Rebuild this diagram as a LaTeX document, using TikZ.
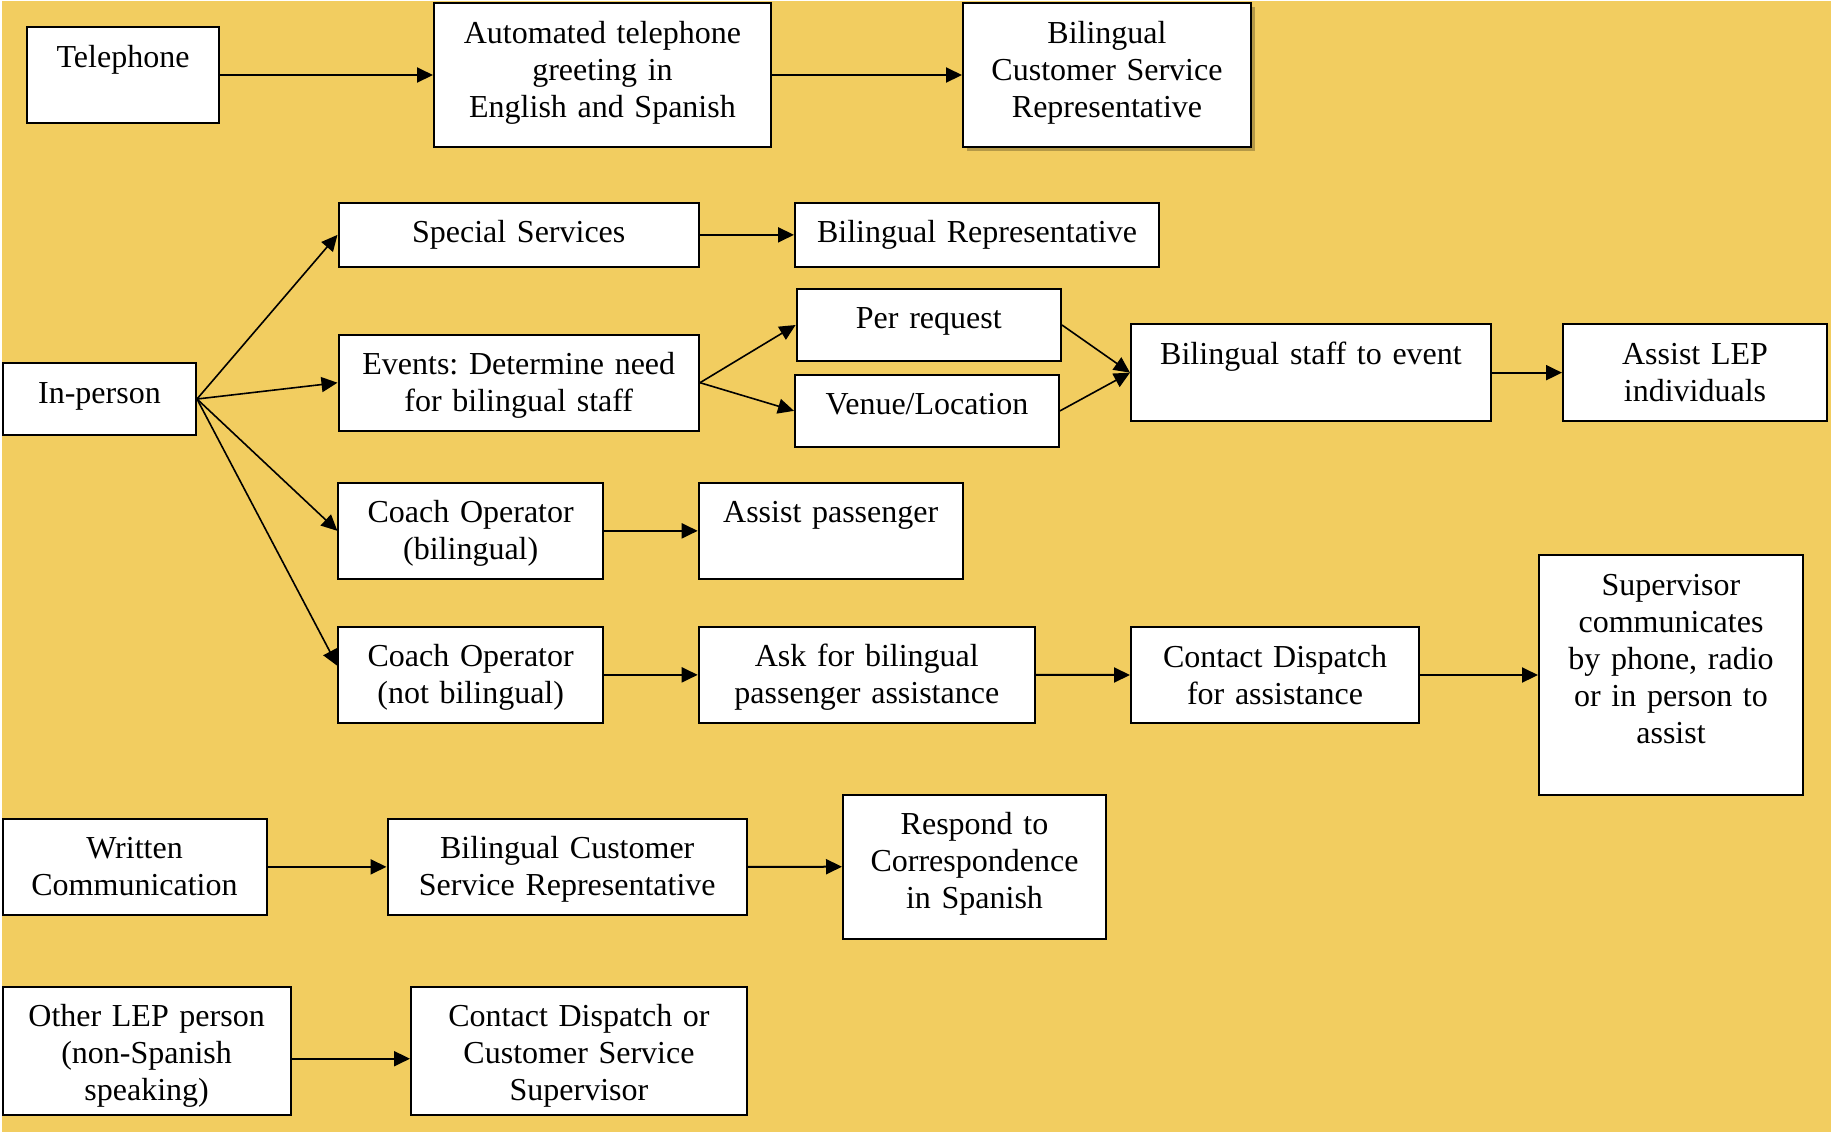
\documentclass[tikz,border=0pt]{standalone}
\usepackage{fontspec}
\setmainfont{Liberation Serif}
\usetikzlibrary{arrows.meta,shadows}
\definecolor{bgyellow}{RGB}{242,205,96}
\frenchspacing
\tikzset{
  bx/.style={draw=black, line width=1pt, fill=white, anchor=north west,
    inner sep=0pt, align=center, text height=20pt,
    font=\fontsize{16pt}{18.5pt}\selectfont\frenchspacing},
  arr/.style={line width=1pt, -{Triangle[length=8pt,width=7.5pt]}},
  darr/.style={arr, line width=0.8pt},
  shd/.style={drop shadow={shadow xshift=2pt, shadow yshift=-2pt, fill=black, opacity=0.25}}
}
\begin{document}
\begin{tikzpicture}[x=0.5pt,y=-0.5pt]
\useasboundingbox (0,0) rectangle (1831,1132);
\fill[white] (0,0) rectangle (1831,1132);
\fill[bgyellow] (2,1) rectangle (1831,1132);

% row 1
\node[bx, text width=96pt, text depth=28pt] (tel) at (26,26) {Telephone};
\node[bx, text width=168.5pt, text depth=52pt] (auto) at (433,2) {Automated telephone\\greeting in\\English and Spanish};
\node[bx, shd, text width=144pt, text depth=52pt] (bcsr1) at (962,2) {Bilingual\\Customer Service\\Representative};

% in-person block
\node[bx, text width=96.5pt, text depth=16pt] (inp) at (2,362) {In-person};
\node[bx, text width=180.25pt, text depth=12.15pt] (ss) at (337.5,201.7) {Special Services};
\node[bx, text width=182pt, text depth=12.15pt] (br) at (794,201.7) {Bilingual Representative};
\node[bx, text width=180.25pt, text depth=28pt] (ev) at (337.5,333.7) {Events: Determine need\\for bilingual staff};
\node[bx, text width=132.2pt, text depth=16.3pt] (pr) at (795.6,287.7) {Per request};
\node[bx, text width=132pt, text depth=16.15pt] (ven) at (794,373.7) {Venue/Location};
\node[bx, text width=180pt, text depth=28.35pt] (staff) at (1130,323.3) {Bilingual staff to event};
\node[bx, text width=132pt, text depth=28.35pt] (lep) at (1562,323.3) {Assist LEP\\individuals};
\node[bx, text width=132.3pt, text depth=28.15pt] (co1) at (337.4,481.7) {Coach Operator\\(bilingual)};
\node[bx, text width=132pt, text depth=28.15pt] (ap) at (697.7,481.7) {Assist passenger};
\node[bx, text width=132.3pt, text depth=28.15pt] (co2) at (337.4,625.7) {Coach Operator\\(not bilingual)};
\node[bx, text width=168.15pt, text depth=28.15pt] (ask) at (697.7,625.7) {Ask for bilingual\\passenger assistance};
\node[bx, text width=144pt, text depth=28pt] (cd) at (1130,626) {Contact Dispatch\\for assistance};
\node[bx, text width=132pt, text depth=100pt] (sup) at (1538,554) {Supervisor\\communicates\\by phone, radio\\or in person to\\assist};

% written
\node[bx, text width=132pt, text depth=28.15pt] (wc) at (1.5,817.7) {Written\\Communication};
\node[bx, text width=179.75pt, text depth=28.15pt] (bcsr2) at (386.5,817.7) {Bilingual Customer\\Service Representative};
\node[bx, text width=131.5pt, text depth=52pt] (resp) at (842,793.7) {Respond to\\Correspondence\\in Spanish};

% other
\node[bx, text width=144.1pt, text depth=44pt] (oth) at (1.5,985.7) {Other LEP person\\(non-Spanish\\speaking)};
\node[bx, text width=168pt, text depth=44pt] (cdo) at (410,985.7) {Contact Dispatch or\\Customer Service\\Supervisor};

% connectors
\draw[arr] (tel.east) -- (auto.west);
\draw[arr] (auto.east) -- (bcsr1.west);

\draw[darr] (inp.east) -- (ss.west);
\draw[darr] (inp.east) -- (ev.west);
\draw[darr] (inp.east) -- (co1.west);
\draw[darr] (inp.east) -- ([yshift=4.5pt]co2.west);

\draw[arr] (ss.east) -- (br.west);
\draw[darr] (ev.east) -- (pr.west);
\draw[darr] (ev.east) -- (ven.west);
\draw[darr] (pr.east) -- (staff.west);
\draw[darr] (ven.east) -- (staff.west);
\draw[arr] (staff.east) -- (lep.west);

\draw[arr] (co1.east) -- (ap.west);
\draw[arr] (co2.east) -- (ask.west);
\draw[arr] (ask.east) -- (cd.west);
\draw[arr] (cd.east) -- (cd.east -| sup.west);

\draw[arr] (wc.east) -- (bcsr2.west);
\draw[arr] (bcsr2.east) -- (resp.west);

\draw[arr] ([yshift=-4pt]oth.east) -- ([yshift=-4pt]cdo.west);
\end{tikzpicture}
\end{document}
